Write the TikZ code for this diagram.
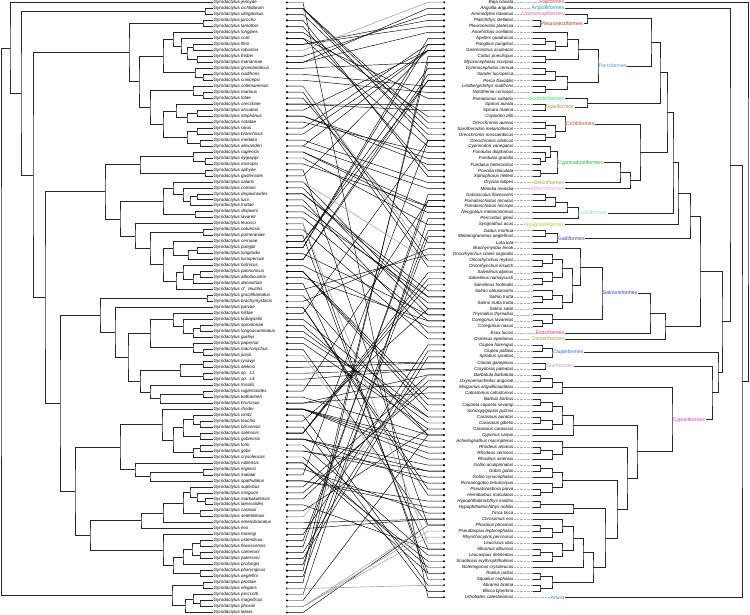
\documentclass[tikz,border=0pt]{standalone}
\usepackage{fontspec}
\setmainfont{Liberation Sans}
\usepackage{tikz}
\usetikzlibrary{calc}

\definecolor{cRaj}{HTML}{B5495B}
\definecolor{cAng}{HTML}{1A9E9E}
\definecolor{cUra}{HTML}{F0549A}
\definecolor{cPleu}{HTML}{A8322D}
\definecolor{cPerc}{HTML}{5C9BC9}
\definecolor{cScom}{HTML}{2EE05A}
\definecolor{cSpar}{HTML}{9A9A30}
\definecolor{cCich}{HTML}{B5473A}
\definecolor{cCypd}{HTML}{22A83A}
\definecolor{cBel}{HTML}{9DAA2A}
\definecolor{cAth}{HTML}{E3A0E3}
\definecolor{cGobi}{HTML}{7DE3CF}
\definecolor{cSyng}{HTML}{C2C22A}
\definecolor{cGadi}{HTML}{3B4A8A}
\definecolor{cSalm}{HTML}{2A3FB8}
\definecolor{cEso}{HTML}{F0287F}
\definecolor{cOsm}{HTML}{9E9E3A}
\definecolor{cClup}{HTML}{2A6AF0}
\definecolor{cSilu}{HTML}{A8A8A8}
\definecolor{cCypr}{HTML}{C83CC8}
\definecolor{cAnu}{HTML}{2E8FA6}

\newcommand\spfont{\fontsize{4.5}{5}\selectfont\itshape}
\newcommand\ordfont{\fontsize{5.2}{6}\selectfont}

% nodo interno: nome, x, figlio 1, figlio 2
\newcommand\tjoin[4]{%
  \path let \p1=(#3), \p2=(#4) in (#2,{0.5*(\y1+\y2)}) coordinate (#1);
  \draw[branch] (#3) -| (#1) |- (#4);}

\begin{document}
\begin{tikzpicture}[x=1pt, y=-1pt, >=latex]
        % Stili
        \tikzstyle{plab} = [anchor=west, inner sep=0.4pt, font=\spfont]
        \tikzstyle{hlab} = [anchor=east, inner sep=0.4pt, font=\spfont]
        \tikzstyle{ord} = [inner sep=0.6pt, font=\ordfont]
        \tikzstyle{dot} = [circle, fill=black, inner sep=0pt, minimum size=2.4pt]
        \tikzstyle{branch} = [line width=0.7pt, black!85]
        \tikzstyle{link} = [line width=0.45pt, black]
        \tikzstyle{glink} = [line width=0.6pt, black!35]
        \tikzstyle{leader} = [line width=0.5pt, black!30, dash pattern=on 0.8pt off 0.6pt]

        \useasboundingbox (0,0) rectangle (750,615);
        \fill[white] (0,0) rectangle (750,615);

        % Nodi: parassiti
        \foreach \nm [count=\i] in {jennyae,cichlidarum,ulinganisus,jarocho,lamothei,longipes,corti,flesi,robustus,frisbei,%
mariannae,groenlandicus,nudifrons,coriicepsi,colemanensis,marinus,lotae,orecchiae,arcuatus,stephanus,%
notatae,rarus,branchicus,medaka,alexanderi,rugiensis,eyipayipi,micropsi,aphyae,gasterostei,%
salaris,comani,derjavinoides,lucii,truttae,derjavini,lavareti,leucisci,ouluensis,pomeraniae,%
cernuae,pungitii,longiradix,luciopercae,botnicus,pannonicus,albolacustris,danastriae,cf.~~teuchis,gracilihamatus,%
brachymystacis,parvae,hildae,kobayashii,sprostonae,longoacuminatus,gurleyi,papernai,macronychus,jussii,%
rysavyi,alekosi,sp.~~L1,sp.~~L4,fossilis,rugiensoides,katharineri,hronosus,rhodei,vimbi,%
teuchis,bliccensis,salmonis,gobiensis,lomi,gobii,crysoleucas,rutilensis,ergensi,malalai,%
spathulatus,superbus,misgurni,markakulensis,laevisoides,carassii,sedelnikowi,emembranatus,eos,harengi,%
ostendicus,flavescensis,cameroni,patersoni,prolongis,pharyngicus,aeglefini,prostae,elegans,perccotti,%
magnificus,phoxini,laevis}{
          \coordinate (t\i) at (213,{2.5+5.98*(\i-1)});
          \node[plab] (pN\i) at (t\i) {Gyrodactylus \nm};
          \node[dot] (pD\i) at (287,{2.5+5.98*(\i-1)}) {};
        }

        % Nodi: ospiti
        \foreach \nm [count=\j] in {Raja clavata,Anguilla anguilla,Ammodytes tobianus,Platichthys stellatus,Pleuronectes platessa,%
Anarhichas ocellatus,Apeltes quadracus,Pungitius pungitius,Gasterosteus aculeatus,Cottus poecilopus,%
Myoxocephalus scorpius,Gymnocephalus cernua,Sander lucioperca,Perca fluviatilis,Lindbergichthys nudifrons,%
Notothenia coriiceps,Pomatomus saltatrix,Sparus aurata,Spicara maena,Coptodon zillii,%
Oreochromis aureus,Sarotherodon melanotheron,Oreochromis mossambicus,Oreochromis niloticus,Cyprinodon variegatus,%
Fundulus diaphanus,Fundulus grandis,Fundulus heteroclitus,Poecilia reticulata,Xiphophorus hellerii,%
Oryzias latipes,Menidia menidia,Gobiusculus flavescens,Pomatoschistus minutus,Pomatoschistus microps,%
Neogobius melanostomus,Perccottus glenii,Syngnathus acus,Gadus morhua,Melanogrammus aeglefinus,%
Lota lota,Brachymystax lenok,Oncorhynchus clarkii virginalis,Oncorhynchus mykiss,Oncorhynchus kisutch,%
Salvelinus alpinus,Salvelinus namaycush,Salvelinus fontinalis,Salmo obtusirostris,Salmo trutta,%
Salmo trutta trutta,Salmo salar,Thymallus thymallus,Coregonus lavaretus,Coregonus nasus,%
Esox lucius,Osmerus eperlanus,Clupea harengus,Clupea pallasii,Sprattus sprattus,%
Clarias gariepinus,Corydoras paleatus,Barbatula barbatula,Oxynoemacheilus angorae,Misgurnus anguillicaudatus,%
Catostomus catostomus,Barbus barbus,Capoeta capoeta sevangi,Schizopygopsis pylzovi,Carassius auratus,%
Carassius gibelio,Carassius carassius,Cyprinus carpio,Acheilognathus macropterus,Rhodeus amarus,%
Rhodeus sericeus,Rhodeus sinensis,Gobio acutipinnatus,Gobio gobio,Gobio cynocephalus,%
Romanogobio tenuicorpus,Pseudorasbora parva,Hemibarbus maculatus,Hypophthalmichthys molitrix,Hypophthalmichthys nobilis,%
Tinca tinca,Chrosomus eos,Phoxinus phoxinus,Pseudaspius leptocephalus,Rhynchocypris percnurus,%
Leuciscus idus,Alburnus alburnus,Leucaspius delineatus,Scardinius erythrophthalmus,Notemigonus crysoleucas,%
Rutilus rutilus,Squalius cephalus,Abramis brama,Blicca bjoerkna,Lithobates catesbeianus}{
          \coordinate (u\j) at (533,{2.3+6.01*(\j-1)});
          \node[hlab] (hN\j) at (514,{2.3+6.01*(\j-1)}) {\nm};
          \node[dot] (hD\j) at (444,{2.3+6.01*(\j-1)}) {};
        }

        % Albero dei parassiti
        \tjoin{c2}{205}{t2}{t3}
        \tjoin{c3}{203}{t4}{t5}
        \tjoin{a89}{193}{t8}{t9}
        \tjoin{a1011}{197}{t10}{t11}
        \tjoin{a811}{187}{a89}{a1011}
        \tjoin{a711}{181}{t7}{a811}
        \tjoin{a611}{173}{t6}{a711}
        \tjoin{a1314}{203}{t13}{t14}
        \tjoin{a1214}{195}{t12}{a1314}
        \tjoin{c4}{163}{a611}{a1214}
        \tjoin{a1617}{203}{t16}{t17}
        \tjoin{c5}{193}{t15}{a1617}
        \tjoin{a1920}{197}{t19}{t20}
        \tjoin{a1921}{187}{a1920}{t21}
        \tjoin{a1821}{176}{t18}{a1921}
        \tjoin{a2223}{197}{t22}{t23}
        \tjoin{a2425}{200}{t24}{t25}
        \tjoin{a2225}{187}{a2223}{a2425}
        \tjoin{c6}{163}{a1821}{a2225}
        \tjoin{a2728}{205}{t27}{t28}
        \tjoin{c7}{193}{t26}{a2728}
        \tjoin{c8}{205}{t29}{t30}
        \tjoin{a3334}{197}{t33}{t34}
        \tjoin{a3335}{190}{a3334}{t35}
        \tjoin{a3235}{183}{t32}{a3335}
        \tjoin{a3135}{173}{t31}{a3235}
        \tjoin{a3637}{195}{t36}{t37}
        \tjoin{c9}{163}{a3135}{a3637}
        \tjoin{c11}{203}{t39}{t40}
        \tjoin{a4243}{197}{t42}{t43}
        \tjoin{a4244}{188}{a4243}{t44}
        \tjoin{a4144}{173}{t41}{a4244}
        \tjoin{a4647}{200}{t46}{t47}
        \tjoin{a4648}{193}{a4647}{t48}
        \tjoin{a4548}{183}{t45}{a4648}
        \tjoin{a4549}{176}{a4548}{t49}
        \tjoin{c12}{163}{a4144}{a4549}
        \tjoin{c13}{207}{t50}{t51}
        \tjoin{a5556}{200}{t55}{t56}
        \tjoin{a5557}{193}{a5556}{t57}
        \tjoin{a5457}{183}{t54}{a5557}
        \tjoin{c15}{173}{t53}{a5457}
        \tjoin{a5960}{203}{t59}{t60}
        \tjoin{c16}{193}{t58}{a5960}
        \tjoin{c17}{203}{t61}{t62}
        \tjoin{c18}{203}{t63}{t64}
        \tjoin{c20}{203}{t66}{t67}
        \tjoin{a7172}{200}{t71}{t72}
        \tjoin{a7072}{193}{t70}{a7172}
        \tjoin{a7374}{200}{t73}{t74}
        \tjoin{a7074}{183}{a7072}{a7374}
        \tjoin{a7576}{200}{t75}{t76}
        \tjoin{a7577}{193}{a7576}{t77}
        \tjoin{a7077}{173}{a7074}{a7577}
        \tjoin{c22}{162}{t69}{a7077}
        \tjoin{c24}{203}{t79}{t80}
        \tjoin{a8485}{205}{t84}{t85}
        \tjoin{a8385}{197}{t83}{a8485}
        \tjoin{a8285}{190}{t82}{a8385}
        \tjoin{a8687}{200}{t86}{t87}
        \tjoin{a8287}{183}{a8285}{a8687}
        \tjoin{c26}{163}{a8287}{t88}
        \tjoin{a9192}{200}{t91}{t92}
        \tjoin{a9394}{200}{t93}{t94}
        \tjoin{a9194}{192}{a9192}{a9394}
        \tjoin{a9195}{183}{a9194}{t95}
        \tjoin{a9697}{200}{t96}{t97}
        \tjoin{a9197}{173}{a9195}{a9697}
        \tjoin{c28}{163}{t90}{a9197}
        \tjoin{a9899}{203}{t98}{t99}
        \tjoin{a101102}{200}{t101}{t102}
        \tjoin{a100102}{193}{t100}{a101102}
        \tjoin{a100103}{185}{a100102}{t103}
        \tjoin{c29}{172}{a9899}{a100103}
        % dorsale
        \tjoin{L6}{150}{c5}{c6}
        \tjoin{L5}{139}{c4}{L6}
        \tjoin{L4}{129}{c3}{L5}
        \tjoin{L12}{140}{c7}{c8}
        \tjoin{L16}{150}{c11}{c12}
        \tjoin{L15}{135}{t38}{L16}
        \tjoin{L14}{120}{c9}{L15}
        \tjoin{L11}{105}{L12}{L14}
        \tjoin{L24}{150}{c15}{c16}
        \tjoin{L26}{180}{c17}{c18}
        \tjoin{L28}{160}{c20}{t68}
        \tjoin{L27}{150}{t65}{L28}
        \tjoin{L25}{140}{L26}{L27}
        \tjoin{L23}{128}{L24}{L25}
        \tjoin{L22}{115}{t52}{L23}
        \tjoin{L21}{100}{c13}{L22}
        \tjoin{L33}{150}{c24}{t81}
        \tjoin{L32}{135}{t78}{L33}
        \tjoin{L31}{120}{c22}{L32}
        \tjoin{L41}{141}{c26}{t89}
        \tjoin{L40}{90}{L41}{c28}
        \tjoin{L30}{75}{L31}{L40}
        \tjoin{L20}{60}{L21}{L30}
        \tjoin{L10}{45}{L11}{L20}
        \tjoin{L3}{33}{L4}{L10}
        \tjoin{L2}{21}{c2}{L3}
        \tjoin{L1}{10}{t1}{L2}
        \tjoin{L0}{1}{L1}{c29}

        % Albero degli ospiti
        \tjoin{bPleu}{540}{u4}{u5}
        \tjoin{b78}{545}{u7}{u8}
        \tjoin{b79}{555}{b78}{u9}
        \tjoin{b69}{567}{u6}{b79}
        \tjoin{b1011}{545}{u10}{u11}
        \tjoin{b611}{578}{b69}{b1011}
        \tjoin{b1213}{545}{u12}{u13}
        \tjoin{b1214}{555}{b1213}{u14}
        \tjoin{b1516}{545}{u15}{u16}
        \tjoin{b1216}{567}{b1214}{b1516}
        \tjoin{bPerc}{598}{b611}{b1216}
        \tjoin{bSpar}{545}{u18}{u19}
        \tjoin{b2122}{545}{u21}{u22}
        \tjoin{b2324}{545}{u23}{u24}
        \tjoin{b2124}{555}{b2122}{b2324}
        \tjoin{bCich}{565}{u20}{b2124}
        \tjoin{b2728}{540}{u27}{u28}
        \tjoin{b2628}{545}{u26}{b2728}
        \tjoin{b2528}{550}{u25}{b2628}
        \tjoin{b2930}{540}{u29}{u30}
        \tjoin{bCypd}{557}{b2528}{b2930}
        \tjoin{b3334}{545}{u33}{u34}
        \tjoin{b3335}{555}{b3334}{u35}
        \tjoin{b3336}{567}{b3335}{u36}
        \tjoin{bGobi}{578}{b3336}{u37}
        \tjoin{b3940}{545}{u39}{u40}
        \tjoin{bGadi}{557}{b3940}{u41}
        \tjoin{b4445}{542}{u44}{u45}
        \tjoin{b4345}{552}{u43}{b4445}
        \tjoin{b4748}{542}{u47}{u48}
        \tjoin{b4648}{552}{u46}{b4748}
        \tjoin{b4348}{562}{b4345}{b4648}
        \tjoin{b5051}{542}{u50}{u51}
        \tjoin{b4951}{552}{u49}{b5051}
        \tjoin{b4952}{562}{b4951}{u52}
        \tjoin{b4352}{572}{b4348}{b4952}
        \tjoin{b4252}{580}{u42}{b4352}
        \tjoin{b5455}{542}{u54}{u55}
        \tjoin{b5355}{552}{u53}{b5455}
        \tjoin{bSalm}{602}{b4252}{b5355}
        \tjoin{b5859}{542}{u58}{u59}
        \tjoin{bClup}{552}{b5859}{u60}
        \tjoin{bSilu}{545}{u61}{u62}
        \tjoin{b6364}{540}{u63}{u64}
        \tjoin{b6365}{552}{b6364}{u65}
        \tjoin{b6366}{562}{b6365}{u66}
        \tjoin{b6768}{540}{u67}{u68}
        \tjoin{b6769}{552}{b6768}{u69}
        \tjoin{b7071}{540}{u70}{u71}
        \tjoin{b7072}{552}{b7071}{u72}
        \tjoin{b6772}{562}{b6769}{b7072}
        \tjoin{b6773}{573}{b6772}{u73}
        \tjoin{b7576}{540}{u75}{u76}
        \tjoin{b7577}{552}{b7576}{u77}
        \tjoin{b7477}{562}{u74}{b7577}
        \tjoin{b7879}{540}{u78}{u79}
        \tjoin{b7880}{552}{b7879}{u80}
        \tjoin{b8283}{540}{u82}{u83}
        \tjoin{b8183}{552}{u81}{b8283}
        \tjoin{b7883}{562}{b7880}{b8183}
        \tjoin{b8485}{540}{u84}{u85}
        \tjoin{b8486}{573}{b8485}{u86}
        \tjoin{b8889}{540}{u88}{u89}
        \tjoin{b8890}{552}{b8889}{u90}
        \tjoin{b8790}{562}{u87}{b8890}
        \tjoin{b9293}{540}{u92}{u93}
        \tjoin{b9294}{552}{b9293}{u94}
        \tjoin{b9194}{562}{u91}{b9294}
        \tjoin{b8794}{573}{b8790}{b9194}
        \tjoin{b8795}{583}{b8794}{u95}
        \tjoin{b9697}{540}{u96}{u97}
        \tjoin{b9899}{540}{u98}{u99}
        \tjoin{b9699}{552}{b9697}{b9899}
        \tjoin{b8799}{593}{b8795}{b9699}
        \tjoin{b8499}{605}{b8486}{b8799}
        \tjoin{b7899}{617}{b7883}{b8499}
        \tjoin{b7499}{627}{b7477}{b7899}
        \tjoin{b6799}{637}{b6773}{b7499}
        \tjoin{bCypr}{672}{b6366}{b6799}

        % Ordini
        \coordinate (xo) at (565,0);
        \node[ord, anchor=east, text=cRaj] (oRaj) at (hD1 -| xo) {Rajiformes};
        \node[ord, anchor=east, text=cAng] (oAng) at (hD2 -| xo) {Anguilliformes};
        \node[ord, anchor=east, text=cUra] (oUra) at (hD3 -| xo) {Uranoscopiformes};
        \node[ord, anchor=east, text=cScom] (oScom) at (hD17 -| xo) {Scombriformes};
        \node[ord, anchor=east, text=cBel] (oBel) at (hD31 -| xo) {Beloniformes};
        \node[ord, anchor=east, text=cAth] (oAth) at (hD32 -| xo) {Atheriniformes};
        \node[ord, anchor=east, text=cSyng] (oSyng) at (hD38 -| xo) {Syngnathiformes};
        \node[ord, anchor=east, text=cEso] (oEso) at (hD56 -| xo) {Esociformes};
        \node[ord, anchor=east, text=cOsm] (oOsm) at (hD57 -| xo) {Osmeriformes};
        \node[ord, anchor=east, text=cAnu] (oAnu) at (hD100 -| xo) {Anura};
        \node[ord, anchor=west, text=cPleu] (oPleu) at (bPleu) {Pleuronectiformes};
        \node[ord, anchor=west, text=cPerc] (oPerc) at (bPerc) {Perciformes};
        \node[ord, anchor=west, text=cSpar] (oSpar) at (bSpar) {Spariformes};
        \node[ord, anchor=west, text=cCich] (oCich) at (bCich) {Cichliformes};
        \node[ord, anchor=west, text=cCypd] (oCypd) at (bCypd) {Cyprinodontiformes};
        \node[ord, anchor=west, text=cGobi] (oGobi) at (bGobi) {Gobiiformes};
        \node[ord, anchor=west, text=cGadi] (oGadi) at (bGadi) {Gadiformes};
        \node[ord, anchor=west, text=cSalm] (oSalm) at (bSalm) {Salmoniformes};
        \node[ord, anchor=west, text=cClup] (oClup) at (bClup) {Clupeiformes};
        \node[ord, anchor=west, text=cSilu] (oSilu) at (bSilu) {Siluriformes};
        \node[ord, anchor=west, text=cCypr] (oCypr) at (bCypr) {Cypriniformes};
        \foreach \j/\o in {1/oRaj,2/oAng,3/oUra,17/oScom,31/oBel,32/oAth,38/oSyng,56/oEso,57/oOsm,100/oAnu}
          \coordinate (u\j) at (\o.west);

        \tjoin{hUP}{587}{oUra.east}{oPleu.east}
        \tjoin{hSS}{587}{oScom.east}{oSpar.east}
        \tjoin{hCB}{620}{oCypd.east}{oBel.east}
        \tjoin{hAth}{630}{hCB}{oAth.east}
        \tjoin{hP1}{651}{hUP}{oPerc.east}
        \tjoin{hP2}{660}{hP1}{hSS}
        \tjoin{hOv}{640}{oCich.east}{hAth}
        \tjoin{hP3}{667}{hP2}{hOv}
        \tjoin{hP4}{673}{hP3}{oGobi.east}
        \tjoin{hP5}{678}{hP4}{oSyng.east}
        \tjoin{hNeo}{690}{hP5}{oGadi.east}
        \tjoin{hSE}{650}{oSalm.east}{oEso.east}
        \tjoin{hPro}{665}{hSE}{oOsm.east}
        \tjoin{hEut}{700}{hNeo}{hPro}
        \tjoin{hOst}{712}{oSilu.east}{oCypr.east}
        \tjoin{hOto}{718}{oClup.east}{hOst}
        \tjoin{hClu}{722}{hEut}{hOto}
        \tjoin{hAct}{730}{oAng.east}{hClu}
        \tjoin{hTet}{742}{hAct}{oAnu.east}
        \tjoin{hRoot}{748}{oRaj.east}{hTet}

        % Collegamenti
        \foreach \j in {1,...,100}
          \draw[leader] (hN\j.east) -- (u\j);
        \foreach \a/\b in {1/100,2/24,3/23,4/30,5/29,6/20,7/25,8/4,10/3,11/2,12/11,13/15,14/16,15/44,16/45,17/41,18/18,19/9,20/28,%
21/26,22/8,23/9,24/31,25/9,26/35,27/38,28/35,29/88,30/9,31/52,32/53,33/50,34/56,35/51,36/50,37/54,38/97,39/57,40/96,%
41/12,42/8,43/53,44/13,45/55,46/67,47/54,48/92,49/43,50/73,51/42,52/82,53/24,54/70,55/73,56/71,57/70,58/72,59/88,%
61/61,62/61,63/62,64/62,65/65,66/34,67/73,68/63,69/75,70/98,71/52,72/99,73/48,74/79,75/93,76/79,77/95,78/96,79/86,80/24,%
81/84,82/63,83/65,84/64,85/92,86/72,88/87,89/87,90/58,91/34,92/33,93/59,94/60,95/39,96/11,97/40,98/10,100/37,101/73,103/88,%
8/5,11/6,42/7,41/14,44/14,7/17,18/19,2/21,2/22,20/27,25/32,26/36,73/46,73/47,33/49,68/66,46/68,46/69,69/76,69/77,69/74,%
74/78,76/80,74/81,52/83,81/85,78/94}
          \draw[link] (pD\a.center) -- ++(16,0) -- ([xshift=-16pt]hD\b.center) -- (hD\b.center);
        \foreach \a/\b in {9/1,99/98,60/88,87/63,102/88,102/89,102/90,38/91,31/44,15/43}
          \draw[glink] (pD\a.center) -- ++(16,0) -- ([xshift=-16pt]hD\b.center) -- (hD\b.center);

\end{tikzpicture}
\end{document}
